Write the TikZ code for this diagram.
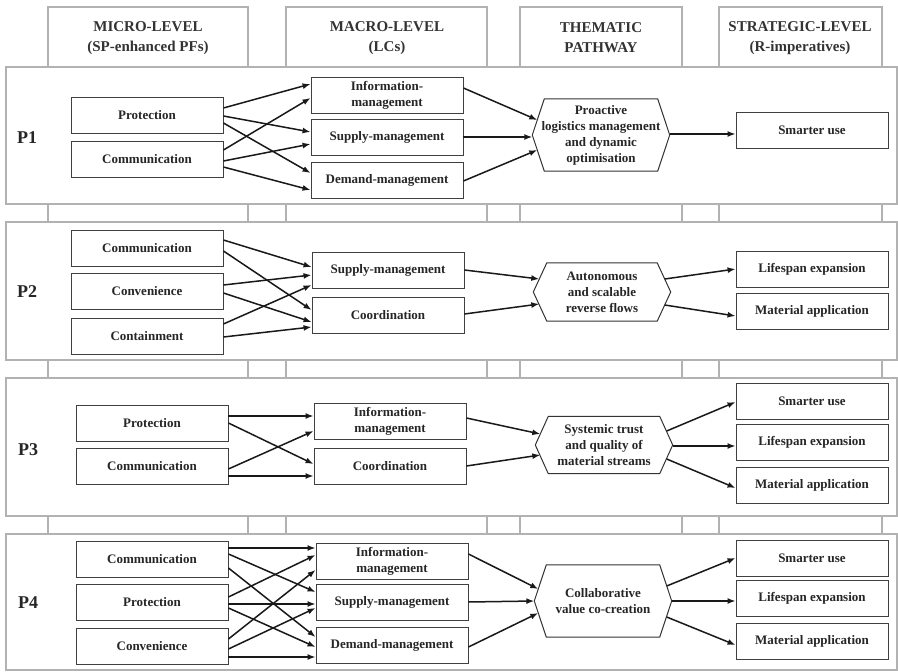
\documentclass[tikz,border=0pt]{standalone}
\usepackage{fontspec}
\setmainfont{Liberation Serif}
\usetikzlibrary{arrows.meta,calc}
\newcommand{\drawhex}[2]{\draw[hexline] ([xshift=#2]#1.north west) -- ([xshift=-#2]#1.north east) -- (#1.east) -- ([xshift=-#2]#1.south east) -- ([xshift=#2]#1.south west) -- (#1.west) -- cycle;}
\begin{document}
\begin{tikzpicture}[x=1pt,y=-1pt,
  grid/.style={draw=black!30,line width=1.2pt},
  box/.style={draw=black!75,line width=0.9pt,fill=white,minimum width=152pt,minimum height=36pt,inner sep=0pt,align=center,font=\fontsize{13}{16}\selectfont\bfseries,text=black!85},
  hexbox/.style={minimum width=137pt,inner sep=0pt,align=center,font=\fontsize{13}{16}\selectfont\bfseries,text=black!85},
  hdr/.style={align=center,font=\fontsize{15}{20}\selectfont\bfseries,text=black!80},
  plabel/.style={font=\fontsize{18}{20}\selectfont\bfseries,text=black!85},
  arr/.style={draw=black!90,line width=1.5pt,-{Latex[length=8pt,width=6pt]}},
  hexline/.style={draw=black!80,line width=1pt}
]
\useasboundingbox (0,0) rectangle (898,672);
% ---------- background table ----------
\foreach \t/\b in {67/204, 222/360, 378/516, 534/670} { \draw[grid,fill=white] (6,\t) rectangle (897,\b); }
\foreach \a/\bb in {48/248, 286/487, 520/682, 719/882} { \draw[grid] (\a,7) rectangle (\bb,67); }
\foreach \t/\b in {204/222, 360/378, 516/534} {
  \foreach \x in {48,248,286,487,520,682,719,882} { \draw[grid] (\x,\t) -- (\x,\b); }
}
% ---------- headers ----------
\node[hdr] (h1) at (148,38) {MICRO-LEVEL\\(SP-enhanced PFs)};
\node[hdr] (h2) at (387,38) {MACRO-LEVEL\\(LCs)};
\node[hdr] (h3) at (601,38) {THEMATIC\\PATHWAY};
\node[hdr] (h4) at (800,38) {STRATEGIC-LEVEL\\(R-imperatives)};
% ---------- P1 ----------
\node[plabel] (l1) at (27,138) {P1};
\node[box] (p1prot) at (147,115) {Protection};
\node[box] (p1comm) at (147,159) {Communication};
\node[box] (p1info) at (387,95) {Information-\\management};
\node[box] (p1supp) at (387,137) {Supply-management};
\node[box] (p1dem) at (387,180) {Demand-management};
\node[hexbox,minimum height=72pt] (p1hex) at (601,135) {Proactive\\logistics management\\and dynamic\\optimisation};
\drawhex{p1hex}{12pt}
\node[box] (p1smart) at (812,130) {Smarter use};
\draw[arr] ($(p1prot.east)+(0,-7)$) -- ($(p1info.west)+(0,-11)$);
\draw[arr] ($(p1prot.east)+(0,1)$) -- ($(p1supp.west)+(0,-5)$);
\draw[arr] ($(p1prot.east)+(0,8)$) -- ($(p1dem.west)+(0,-7)$);
\draw[arr] ($(p1comm.east)+(0,-9)$) -- ($(p1info.west)+(0,3)$);
\draw[arr] ($(p1comm.east)+(0,2)$) -- ($(p1supp.west)+(0,7)$);
\draw[arr] ($(p1comm.east)+(0,8)$) -- ($(p1dem.west)+(0,10)$);
\draw[arr] ($(p1info.east)+(0,-7)$) -- ($(p1hex.west)+(5,-15)$);
\draw[arr] (p1supp.east) -- (p1supp.east -| p1hex.west);
\draw[arr] ($(p1dem.east)+(0,1)$) -- ($(p1hex.west)+(5,15)$);
\draw[arr] ($(p1hex.east)+(0,-1)$) -- ($(p1smart.west)+(0,4)$);
% ---------- P2 ----------
\node[plabel] (l2) at (27,292) {P2};
\node[box] (p2comm) at (147,248) {Communication};
\node[box] (p2conv) at (147,291) {Convenience};
\node[box] (p2cont) at (147,336) {Containment};
\node[box] (p2supp) at (388,270) {Supply-management};
\node[box] (p2coor) at (388,315) {Coordination};
\node[hexbox,minimum height=58pt] (p2hex) at (602,292) {Autonomous\\and scalable\\reverse flows};
\drawhex{p2hex}{13.5pt}
\node[box] (p2life) at (812,269) {Lifespan expansion};
\node[box] (p2mat) at (812,311) {Material application};
\draw[arr] ($(p2comm.east)+(0,-8)$) -- ($(p2supp.west)+(0,-3)$);
\draw[arr] ($(p2comm.east)+(0,3)$) -- ($(p2coor.west)+(0,-5)$);
\draw[arr] ($(p2conv.east)+(0,-6)$) -- ($(p2supp.west)+(0,5)$);
\draw[arr] ($(p2conv.east)+(0,2)$) -- ($(p2coor.west)+(0,7)$);
\draw[arr] ($(p2cont.east)+(0,-12)$) -- ($(p2supp.west)+(0,15)$);
\draw[arr] ($(p2cont.east)+(0,1)$) -- ($(p2coor.west)+(0,12)$);
\draw[arr] (p2supp.east) -- ($(p2hex.west)+(6,-13)$);
\draw[arr] ($(p2coor.east)+(0,-1)$) -- ($(p2hex.west)+(6,12)$);
\draw[arr] ($(p2hex.east)+(-6,-13)$) -- (p2life.west);
\draw[arr] ($(p2hex.east)+(-6,13)$) -- ($(p2mat.west)+(0,5)$);
% ---------- P3 ----------
\node[plabel] (l3) at (28,450) {P3};
\node[box] (p3prot) at (152,423) {Protection};
\node[box] (p3comm) at (152,466) {Communication};
\node[box] (p3info) at (390,421) {Information-\\management};
\node[box] (p3coor) at (390,466) {Coordination};
\node[hexbox,minimum height=57pt] (p3hex) at (604,445) {Systemic trust\\and quality of\\material streams};
\drawhex{p3hex}{13pt}
\node[box] (p3smart) at (812,401) {Smarter use};
\node[box] (p3life) at (812,442) {Lifespan expansion};
\node[box] (p3mat) at (812,485) {Material application};
\draw[arr] ($(p3prot.east)+(0,-7)$) -- ($(p3info.west)+(0,-5)$);
\draw[arr] (p3prot.east) -- ($(p3coor.west)+(0,-2)$);
\draw[arr] ($(p3comm.east)+(0,3)$) -- ($(p3info.west)+(0,10)$);
\draw[arr] ($(p3comm.east)+(0,10)$) -- ($(p3coor.west)+(0,10)$);
\draw[arr] ($(p3info.east)+(0,-3)$) -- ($(p3hex.west)+(5,-11)$);
\draw[arr] (p3coor.east) -- ($(p3hex.west)+(5,10)$);
\draw[arr] ($(p3hex.east)+(-6,-14)$) -- ($(p3smart.west)+(0,1)$);
\draw[arr] ($(p3hex.east)+(0,1)$) -- ($(p3life.west)+(0,4)$);
\draw[arr] ($(p3hex.east)+(-6,14)$) -- ($(p3mat.west)+(0,3)$);
% ---------- P4 ----------
\node[plabel] (l4) at (28,603) {P4};
\node[box] (p4comm) at (152,559) {Communication};
\node[box] (p4prot) at (152,602) {Protection};
\node[box] (p4conv) at (152,646) {Convenience};
\node[box] (p4info) at (392,561) {Information-\\management};
\node[box] (p4supp) at (392,602) {Supply-management};
\node[box] (p4dem) at (392,645) {Demand-management};
\node[hexbox,minimum height=72pt] (p4hex) at (603,601) {Collaborative\\value co-creation};
\drawhex{p4hex}{12pt}
\node[box] (p4smart) at (812,558) {Smarter use};
\node[box] (p4life) at (812,598) {Lifespan expansion};
\node[box] (p4mat) at (812,641) {Material application};
\draw[arr] ($(p4comm.east)+(0,-11)$) -- ($(p4info.west)+(0,-13)$);
\draw[arr] ($(p4comm.east)+(0,-5)$) -- ($(p4supp.west)+(0,-10)$);
\draw[arr] ($(p4comm.east)+(0,9)$) -- ($(p4dem.west)+(0,-8)$);
\draw[arr] ($(p4prot.east)+(0,-5)$) -- ($(p4info.west)+(0,-6)$);
\draw[arr] ($(p4prot.east)+(0,2)$) -- ($(p4supp.west)+(0,2)$);
\draw[arr] ($(p4prot.east)+(0,6)$) -- ($(p4dem.west)+(0,2)$);
\draw[arr] ($(p4conv.east)+(0,-7)$) -- ($(p4info.west)+(0,9)$);
\draw[arr] ($(p4conv.east)+(0,3)$) -- ($(p4supp.west)+(0,6)$);
\draw[arr] ($(p4conv.east)+(0,11)$) -- ($(p4dem.west)+(0,12)$);
\draw[arr] ($(p4info.east)+(0,-7)$) -- ($(p4hex.west)+(4,-12)$);
\draw[arr] (p4supp.east) -- (p4hex.west);
\draw[arr] ($(p4dem.east)+(0,2)$) -- ($(p4hex.west)+(4,12)$);
\draw[arr] ($(p4hex.east)+(-5,-15)$) -- (p4smart.west);
\draw[arr] (p4hex.east) -- ($(p4life.west)+(0,3)$);
\draw[arr] ($(p4hex.east)+(-5,16)$) -- ($(p4mat.west)+(0,4)$);
\end{tikzpicture}
\end{document}
